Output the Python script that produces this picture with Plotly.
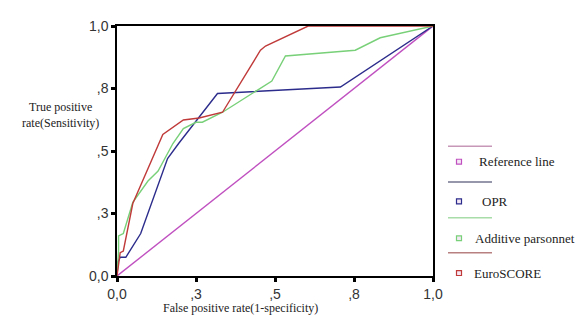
import plotly.graph_objects as go

# ROC curve data (x = 1-specificity, y = sensitivity)
ref_x = [0.0, 1.0]
ref_y = [0.0, 1.0]

opr_x = [0.0, 0.003, 0.01, 0.028, 0.075, 0.16, 0.195, 0.318, 0.707, 1.0]
opr_y = [0.0, 0.055, 0.075, 0.075, 0.17, 0.47, 0.53, 0.73, 0.756, 1.0]

add_x = [0.0, 0.005, 0.005, 0.02, 0.05, 0.098, 0.13, 0.177, 0.21, 0.25, 0.27, 0.334, 0.49, 0.533, 0.754, 0.833, 1.0]
add_y = [0.0, 0.10, 0.16, 0.17, 0.295, 0.38, 0.42, 0.53, 0.59, 0.615, 0.615, 0.655, 0.78, 0.88, 0.903, 0.953, 1.0]

euro_x = [0.0, 0.01, 0.02, 0.05, 0.145, 0.21, 0.26, 0.334, 0.454, 0.47, 0.605, 1.0]
euro_y = [0.0, 0.093, 0.10, 0.29, 0.566, 0.624, 0.632, 0.655, 0.903, 0.92, 1.0, 1.0]

tick_vals = [0.0, 0.25, 0.5, 0.75, 1.0]
tick_text = ["0,0", ",3", ",5", ",8", "1,0"]

series_names = ["Reference line", "OPR", "Additive parsonnet", "EuroSCORE"]
series_colors = ["#c050c0", "#2c2c8c", "#78d078", "#c03a3a"]
legend_line_colors = ["#c898b8", "#747490", "#a8dca8", "#b88080"]

SERIF = "Liberation Serif, Times New Roman, DejaVu Serif, serif"

fig = go.Figure()
for xs, ys, name, col in zip([ref_x, opr_x, add_x, euro_x], [ref_y, opr_y, add_y, euro_y],
                             series_names, series_colors):
    fig.add_trace(go.Scatter(x=xs, y=ys, mode="lines", name=name,
                             line=dict(color=col, width=1.4), showlegend=False))

OFF = 8  # page body margin
W, H = 587 - 2 * OFF, 325 - 2 * OFF
PL, PR, PT, PB = 117, 433, 18, 276  # plot area in page pixels
L, T = PL - OFF, PT - OFF
pw, ph = PR - PL, PB - PT
R, B = W - L - pw, H - T - ph

def px(x):
    return (x - PL) / pw

def py(y):
    return (PB - y) / ph

shapes = []
annotations = []
line_ys = [142, 179, 216, 252]
mark_ys = [158, 199, 237, 273]
text_xs = [477, 480, 473, 472]
for i, name in enumerate(series_names):
    shapes.append(dict(type="line", xref="paper", yref="paper",
                       x0=px(448), x1=px(492), y0=py(line_ys[i]), y1=py(line_ys[i]),
                       line=dict(color=legend_line_colors[i], width=1.5)))
    shapes.append(dict(type="rect", xref="paper", yref="paper",
                       x0=px(456.5), x1=px(461.5), y0=py(mark_ys[i] + 2.5), y1=py(mark_ys[i] - 2.5),
                       line=dict(color=series_colors[i], width=1.2), fillcolor="#f4e8f4"))
    annotations.append(dict(xref="paper", yref="paper", x=px(text_xs[i]), y=py(mark_ys[i]),
                            text=name, showarrow=False, xanchor="left", yanchor="middle",
                            font=dict(family=SERIF, size=13, color="#222")))

annotations.append(dict(xref="paper", yref="paper", x=px(60), y=py(110),
                        text="True positive<br>rate(Sensitivity)", showarrow=False,
                        xanchor="center", yanchor="middle", align="center",
                        font=dict(family=SERIF, size=12, color="#222")))
annotations.append(dict(xref="paper", yref="paper", x=px(240), y=py(309),
                        text="False positive rate(1-specificity)", showarrow=False,
                        xanchor="center", yanchor="middle",
                        font=dict(family=SERIF, size=12, color="#222")))

axis_common = dict(range=[0, 1], tickvals=tick_vals, ticktext=tick_text,
                   showgrid=False, zeroline=False, showline=True, linecolor="black",
                   linewidth=1.5, mirror=True, ticks="outside", ticklen=4, tickwidth=3,
                   tickcolor="black",
                   tickfont=dict(family="Liberation Sans, Arial, sans-serif", size=14, color="#333"))

fig.update_layout(
    width=W, height=H,
    margin=dict(l=L, r=R, t=T, b=B),
    paper_bgcolor="white", plot_bgcolor="white",
    xaxis=dict(**axis_common),
    yaxis=dict(**axis_common),
    shapes=shapes, annotations=annotations,
    showlegend=False,
)

fig.write_html("out.html")
